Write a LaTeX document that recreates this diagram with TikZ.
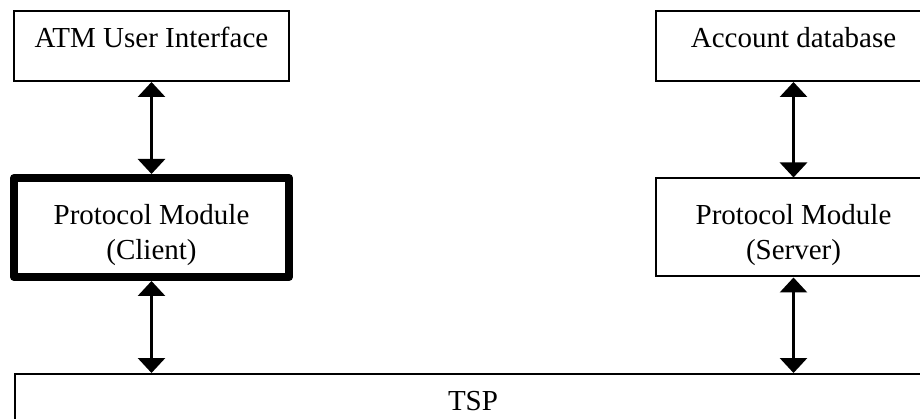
\documentclass[tikz,border=0pt]{standalone}
\usepackage{fontspec}
\setmainfont{Liberation Serif}
\usetikzlibrary{arrows.meta}
\newcommand{\lowerstrut}{\rule{0pt}{36pt}}
\begin{document}
\begin{tikzpicture}[x=1pt,y=-1pt,
  box/.style={draw=black, line width=2pt, fill=white, minimum width=275pt, inner sep=0pt, font=\fontsize{29}{35}\selectfont, align=center},
  topbox/.style={box, minimum height=70pt, text height=13pt, text depth=9pt},
  midbox/.style={box, minimum height=98pt},
  thickbox/.style={line width=8pt, line join=round},
  link/.style={line width=3pt, {Triangle[width=27pt,length=15pt]}-{Triangle[width=27pt,length=15pt]}}
]
\clip (0,0) rectangle (920,419);
\fill[white] (0,0) rectangle (920,419);
\node[topbox] (atm) at (151.5,46) {ATM User Interface};
\node[topbox] (acc) at (793.5,46) {Account database};
\node[midbox, thickbox, minimum height=99pt] (client) at (151.5,227.5) {\lowerstrut Protocol Module\\(Client)};
\node[midbox] (server) at (793.5,227.5) {\lowerstrut Protocol Module\\(Server)};
\node[box, minimum width=916pt, minimum height=54pt] (tsp) at (473,401) {TSP};
\draw[link] (atm.south) -- (client.north);
\draw[link] (acc.south) -- (server.north);
\draw[link] (client.south) -- (client.south |- tsp.north);
\draw[link] (server.south) -- (server.south |- tsp.north);
\end{tikzpicture}
\end{document}
